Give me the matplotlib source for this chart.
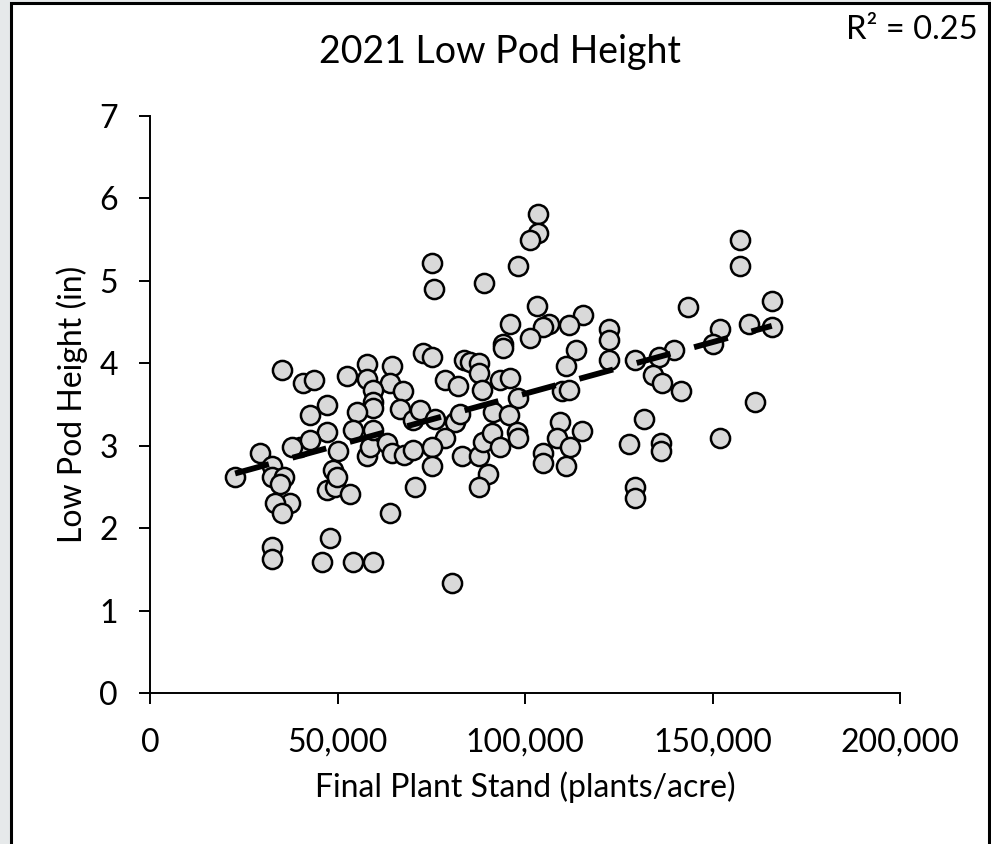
import numpy as np
import matplotlib
matplotlib.use('Agg')
import matplotlib.pyplot as plt
from matplotlib.patches import Rectangle
from matplotlib.ticker import FuncFormatter

plt.rcParams['font.family'] = ['Lato', 'DejaVu Sans']

# final plant stand (plants/acre) and low pod height (in)
stand = [
    35100, 40900, 43700, 52600, 57800, 57950, 64400, 64000, 67400, 59500,
    59500, 59500, 47100, 42700, 55100, 66700, 70200, 47100, 40000, 42700,
    54200, 50200, 57800, 58700, 59500, 63100, 64400, 67600, 70200, 29300,
    22700, 32400, 32400, 35600, 34700, 37300, 33300, 35100, 32400, 32400,
    48000, 45800, 54200, 59500, 64000, 70700, 47100, 49300, 48900, 49800,
    53300, 37800,
    103400, 103400, 101300, 98000, 75300, 75800, 89100, 103100, 115400, 96000,
    106500, 104900, 111800, 101300, 122400, 122400, 122400, 94200, 94200, 113500,
    110800, 72900, 75100, 83600, 85300, 87600, 87600, 78700, 82200, 88400,
    93300, 96000, 98000, 109800, 111800, 72000, 76000, 81300, 82700, 91500,
    95600, 78700, 75100, 75100, 83100, 87600, 88900, 91100, 93300, 90200,
    87600, 97800, 98200, 109300, 108400, 112000, 115100, 104900, 104900, 110800,
    80400,
    157300, 157300, 165800, 165800, 159600, 143400, 152000, 150200, 139700, 135600,
    129300, 134200, 136400, 141600, 161300, 131800, 127600, 136200, 136200, 152000,
    129200, 129200,
]
pod_height = [
    3.92, 3.76, 3.80, 3.84, 3.99, 3.81, 3.97, 3.76, 3.66, 3.68,
    3.53, 3.46, 3.49, 3.37, 3.41, 3.45, 3.31, 3.17, 2.99, 3.07,
    3.19, 2.93, 2.87, 2.99, 3.19, 3.03, 2.91, 2.89, 2.95, 2.91,
    2.62, 2.75, 2.62, 2.62, 2.54, 2.30, 2.30, 2.18, 1.77, 1.63,
    1.88, 1.59, 1.59, 1.59, 2.18, 2.50, 2.46, 2.50, 2.71, 2.62,
    2.42, 2.99,
    5.81, 5.58, 5.49, 5.18, 5.22, 4.90, 4.98, 4.69, 4.59, 4.48,
    4.48, 4.44, 4.46, 4.31, 4.42, 4.28, 4.04, 4.23, 4.18, 4.16,
    3.97, 4.12, 4.08, 4.04, 4.02, 4.00, 3.88, 3.80, 3.72, 3.68,
    3.80, 3.82, 3.58, 3.66, 3.68, 3.43, 3.32, 3.29, 3.39, 3.41,
    3.37, 3.09, 2.99, 2.75, 2.87, 2.87, 3.05, 3.15, 2.99, 2.66,
    2.50, 3.17, 3.09, 3.29, 3.09, 2.99, 3.18, 2.91, 2.79, 2.75,
    1.33,
    5.50, 5.18, 4.75, 4.44, 4.48, 4.68, 4.42, 4.23, 4.16, 4.08,
    4.04, 3.86, 3.76, 3.66, 3.53, 3.32, 3.02, 3.03, 2.93, 3.09,
    2.50, 2.36,
]

x = np.array(stand, dtype=float)
y = np.array(pod_height)
slope, intercept = np.polyfit(x, y, 1)

fig = plt.figure(figsize=(9.91, 8.44), dpi=100)
fig.patch.set_facecolor('#e6e9ea')
fig.patches.append(Rectangle((11 / 991, -0.05), 978 / 991, 1.05 - 3 / 844,
                             transform=fig.transFigure, facecolor='white',
                             edgecolor='black', linewidth=2.2, zorder=-5))

ax = fig.add_axes([150 / 991, 151 / 844, 750 / 991, 577 / 844])
ax.patch.set_alpha(0)

ax.scatter(x, y, s=190, facecolor='#d9d9d9', edgecolor='black', linewidth=1.8, zorder=2)

# linear trend line
xs = np.array([x.min(), x.max()])
ax.plot(xs, intercept + slope * xs, color='black', lw=4.2, dashes=(6.0, 4.2),
        dash_capstyle='butt', solid_capstyle='butt', zorder=3)

ax.set_xlim(0, 200000)
ax.set_ylim(0, 7)
ax.set_xticks([0, 50000, 100000, 150000, 200000])
ax.set_yticks(range(0, 8))
ax.xaxis.set_major_formatter(FuncFormatter(lambda v, p: f'{int(v):,}'))
for s in ['top', 'right']:
    ax.spines[s].set_visible(False)
for s in ['left', 'bottom']:
    ax.spines[s].set_linewidth(1.4)
ax.tick_params(direction='out', length=8, width=1.4, labelsize=23, colors='black')
ax.tick_params(axis='x', pad=17)
ax.tick_params(axis='y', pad=15)

ax.set_xlabel('Final Plant Stand (plants/acre)', fontsize=23)
ax.set_ylabel('Low Pod Height (in)', fontsize=23)
ax.xaxis.set_label_coords(0.5, -0.136)
ax.yaxis.set_label_coords(-0.083, 0.5)

fig.text(500 / 991, 1 - 52 / 844, '2021 Low Pod Height', fontsize=27, ha='center', va='center')
fig.text(978 / 991, 1 - 30 / 844, 'R² = 0.25', fontsize=23.5, ha='right', va='center')

fig.savefig('out.png', dpi=100, facecolor=fig.get_facecolor())
